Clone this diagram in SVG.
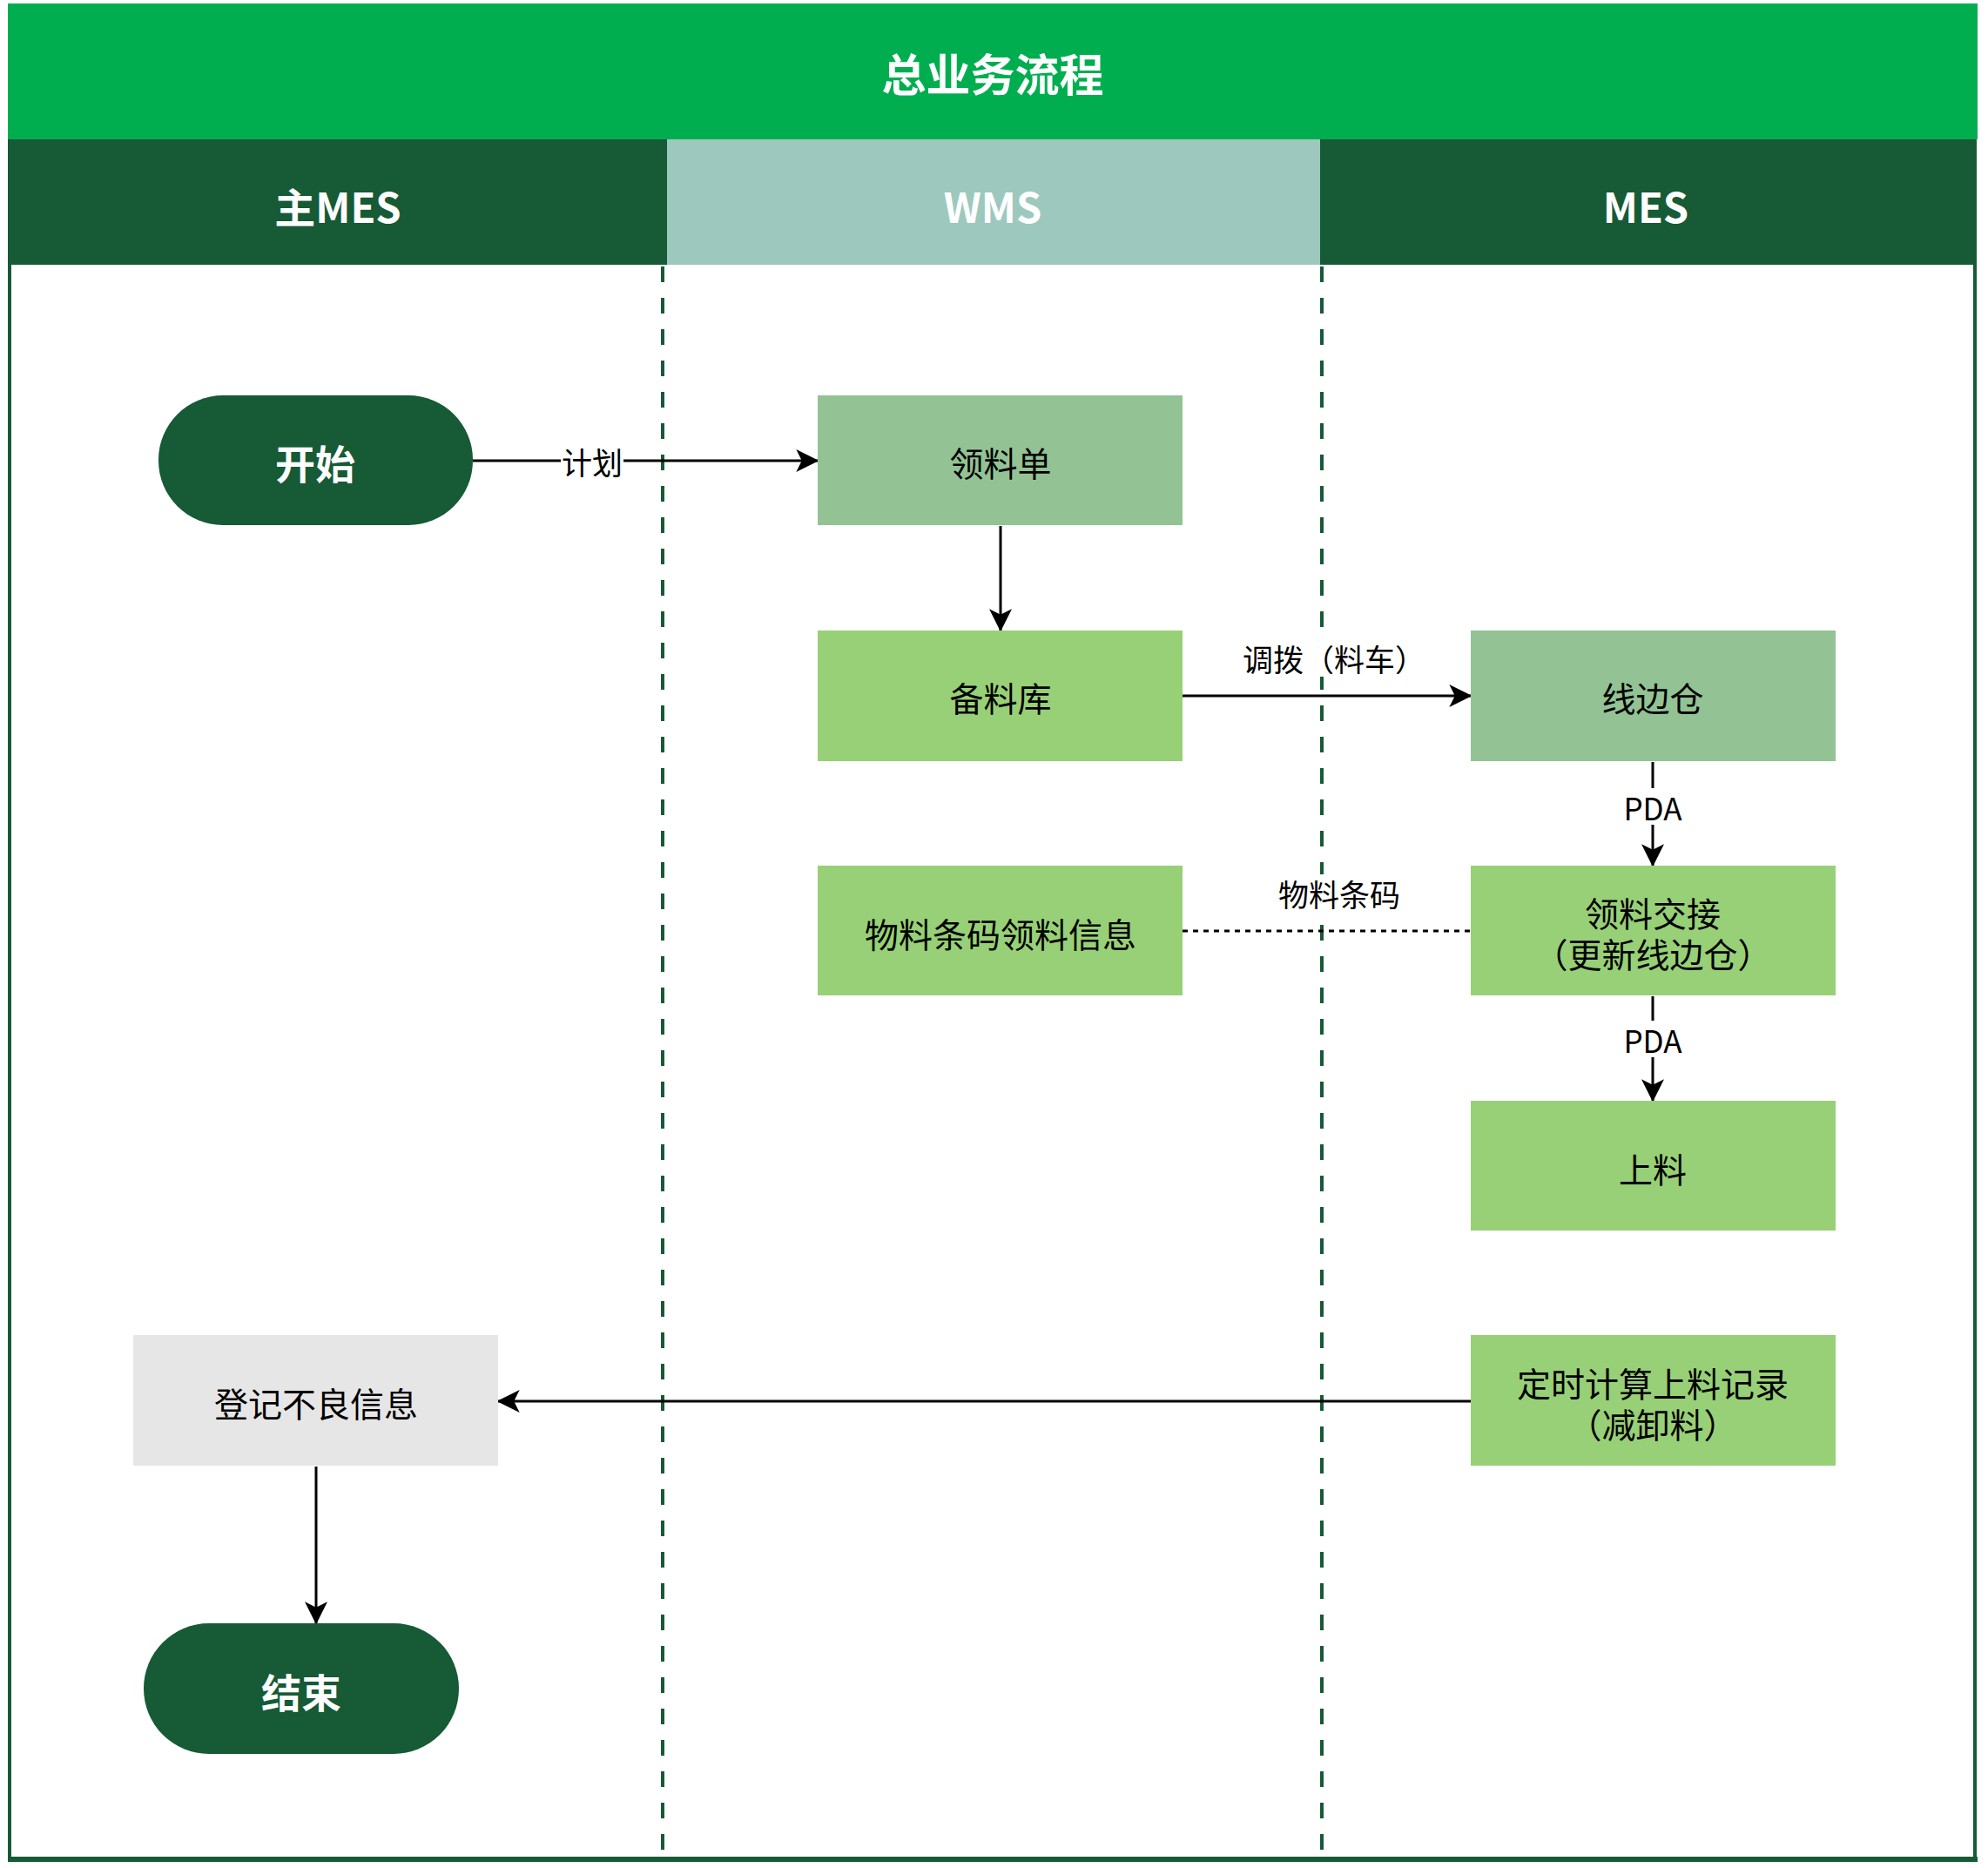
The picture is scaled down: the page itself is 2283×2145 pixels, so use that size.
<svg xmlns="http://www.w3.org/2000/svg" width="2283" height="2145" viewBox="0 0 2283 2145">
<defs>
<style>
.hdr{font-family:"Noto Sans CJK SC","Noto Sans",sans-serif;font-weight:bold;fill:#fff;font-size:47px;text-anchor:middle;dominant-baseline:central;}
.ttl{font-size:51px;}
.nt{font-family:"Noto Sans CJK SC","Noto Sans",sans-serif;fill:#000;font-size:39px;text-anchor:middle;dominant-baseline:central;}
.term{font-family:"Noto Sans CJK SC","Noto Sans",sans-serif;font-weight:bold;fill:#fff;font-size:46px;text-anchor:middle;dominant-baseline:central;}
.lbl{font-family:"Noto Sans CJK SC","Noto Sans",sans-serif;fill:#000;font-size:35px;text-anchor:middle;dominant-baseline:central;}
.edge{stroke:#000;stroke-width:3;fill:none;}
.lane{stroke:#165A36;stroke-width:4;stroke-dasharray:18 18;fill:none;}
.g1{fill:#93C394;}
.g2{fill:#98D077;}
</style>
<marker id="arr" viewBox="0 0 20 20" refX="19" refY="10" markerWidth="26" markerHeight="26" markerUnits="userSpaceOnUse" orient="auto">
<path d="M0,0 L20,10 L0,20 L5,10 Z" fill="#000"/>
</marker>
</defs>
<rect x="0" y="0" width="2283" height="2145" fill="#fff"/>

<g id="pool">
<rect x="9" y="4" width="2262" height="156" fill="#00AE4F"/>
<text class="hdr ttl" x="1140" y="83">总业务流程</text>
<rect x="11" y="160" width="755" height="144" fill="#165A36"/>
<rect x="766" y="160" width="750" height="144" fill="#9DC8BD"/>
<rect x="1516" y="160" width="754" height="144" fill="#165A36"/>
<text class="hdr" x="388" y="235">主MES</text>
<text class="hdr" x="1140" y="235">WMS</text>
<text class="hdr" x="1890" y="235">MES</text>
<path d="M11,160 V2136 H2268 V160" fill="none" stroke="#165A36" stroke-width="4"/>
<line x1="9" y1="2135" x2="2271" y2="2135" stroke="#165A36" stroke-width="6"/>
<line class="lane" x1="761" y1="306" x2="761" y2="2134"/>
<line class="lane" x1="1518" y1="306" x2="1518" y2="2134"/>
</g>

<g id="connectors">
<line class="edge" x1="543" y1="529" x2="939" y2="529" marker-end="url(#arr)"/>
<rect x="644" y="508" width="72" height="42" fill="#fff"/>
<text class="lbl" x="680" y="529">计划</text>

<line class="edge" x1="1149" y1="604" x2="1149" y2="724" marker-end="url(#arr)"/>

<line class="edge" x1="1358" y1="799" x2="1689" y2="799" marker-end="url(#arr)"/>
<rect x="1430" y="733" width="204" height="44" fill="#fff"/>
<text class="lbl" x="1532" y="755">调拨（料车）</text>

<line class="edge" x1="1898" y1="875" x2="1898" y2="994" marker-end="url(#arr)"/>
<rect x="1858" y="905" width="80" height="42" fill="#fff"/>
<text class="lbl" x="1898" y="926">PDA</text>

<line x1="1358" y1="1069" x2="1689" y2="1069" stroke="#000" stroke-width="3" stroke-dasharray="6 6"/>
<rect x="1464" y="1004" width="148" height="42" fill="#fff"/>
<text class="lbl" x="1538" y="1025">物料条码</text>

<line class="edge" x1="1898" y1="1144" x2="1898" y2="1264" marker-end="url(#arr)"/>
<rect x="1858" y="1172" width="80" height="42" fill="#fff"/>
<text class="lbl" x="1898" y="1193">PDA</text>

<line class="edge" x1="1689" y1="1609" x2="572" y2="1609" marker-end="url(#arr)"/>

<line class="edge" x1="363" y1="1684" x2="363" y2="1864" marker-end="url(#arr)"/>
</g>

<g id="start">
<rect x="182" y="454" width="361" height="149" rx="74" ry="74" fill="#165A36"/>
<text class="term" x="362" y="530">开始</text>
</g>
<g id="lingliaodan">
<rect class="g1" x="939" y="454" width="419" height="149"/>
<text class="nt" x="1149" y="530">领料单</text>
</g>
<g id="beiliaoku">
<rect class="g2" x="939" y="724" width="419" height="150"/>
<text class="nt" x="1149" y="800">备料库</text>
</g>
<g id="xianbiancang">
<rect class="g1" x="1689" y="724" width="419" height="150"/>
<text class="nt" x="1898" y="800">线边仓</text>
</g>
<g id="tiaoma">
<rect class="g2" x="939" y="994" width="419" height="149"/>
<text class="nt" x="1149" y="1071">物料条码领料信息</text>
</g>
<g id="jiaojie">
<rect class="g2" x="1689" y="994" width="419" height="149"/>
<text class="nt" x="1898" y="1047"><tspan x="1898" y="1047">领料交接</tspan><tspan x="1898" y="1094">（更新线边仓）</tspan></text>
</g>
<g id="shangliao">
<rect class="g2" x="1689" y="1264" width="419" height="149"/>
<text class="nt" x="1898" y="1341">上料</text>
</g>
<g id="dingshi">
<rect class="g2" x="1689" y="1533" width="419" height="150"/>
<text class="nt" x="1898" y="1587"><tspan x="1898" y="1587">定时计算上料记录</tspan><tspan x="1898" y="1634">（减卸料）</tspan></text>
</g>
<g id="dengji">
<rect x="153" y="1533" width="419" height="150" fill="#E6E6E6"/>
<text class="nt" x="363" y="1610">登记不良信息</text>
</g>
<g id="end">
<rect x="165" y="1864" width="362" height="150" rx="75" ry="75" fill="#165A36"/>
<text class="term" x="346" y="1941">结束</text>
</g>
</svg>
